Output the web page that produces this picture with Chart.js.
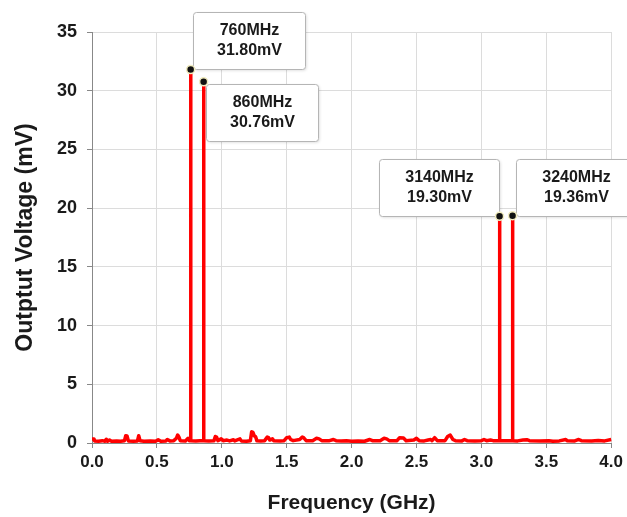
<!DOCTYPE html>
<html>
<head>
  <title>Output Voltage vs Frequency</title>
  <script src="https://cdn.jsdelivr.net/npm/chart.js"></script>
  <style>
    body { margin: 0; background: #fff; }
    canvas { display: block; }
  </style>
</head>
<body>
  <canvas id="specChart" width="627" height="517"></canvas>

  <script>
    // Spectrum trace (GHz, mV)
    const freqGHz = [
      0.000, 0.015, 0.020, 0.050, 0.080, 0.100, 0.110, 0.120, 0.135, 0.150,
      0.190, 0.220, 0.250, 0.260, 0.270, 0.280, 0.320, 0.350, 0.360, 0.370,
      0.400, 0.450, 0.490, 0.510, 0.530, 0.570, 0.580, 0.600, 0.630, 0.650,
      0.660, 0.670, 0.680, 0.720, 0.740, 0.750, 0.758, 0.760, 0.762, 0.800,
      0.830, 0.858, 0.860, 0.862, 0.900, 0.940, 0.950, 0.960, 0.970, 0.995,
      1.000, 1.010, 1.040, 1.060, 1.090, 1.100, 1.140, 1.150, 1.190, 1.220,
      1.230, 1.240, 1.250, 1.260, 1.270, 1.300, 1.330, 1.350, 1.360, 1.370,
      1.390, 1.400, 1.450, 1.480, 1.500, 1.520, 1.530, 1.550, 1.600, 1.620,
      1.630, 1.650, 1.700, 1.730, 1.750, 1.770, 1.830, 1.860, 1.880, 1.920,
      1.960, 2.000, 2.050, 2.100, 2.140, 2.160, 2.220, 2.250, 2.270, 2.290,
      2.350, 2.370, 2.400, 2.420, 2.480, 2.500, 2.520, 2.560, 2.590, 2.610,
      2.620, 2.640, 2.660, 2.720, 2.740, 2.760, 2.780, 2.800, 2.850, 2.870,
      2.890, 2.950, 3.000, 3.020, 3.040, 3.070, 3.090, 3.138, 3.140, 3.142,
      3.180, 3.238, 3.240, 3.242, 3.280, 3.320, 3.350, 3.370, 3.450, 3.520,
      3.550, 3.600, 3.650, 3.660, 3.720, 3.750, 3.770, 3.850, 3.900, 3.950,
      4.000
    ];
    const voltMV = [
      0.35, 0.35, 0.18, 0.15, 0.20, 0.15, 0.32, 0.15, 0.25, 0.15,
      0.18, 0.15, 0.20, 0.62, 0.60, 0.18, 0.15, 0.18, 0.62, 0.20,
      0.15, 0.18, 0.15, 0.28, 0.15, 0.18, 0.30, 0.18, 0.20, 0.40,
      0.68, 0.50, 0.20, 0.18, 0.40, 0.20, 0.20, 31.80, 0.20, 0.18,
      0.20, 0.20, 30.76, 0.20, 0.18, 0.20, 0.55, 0.50, 0.20, 0.35,
      0.35, 0.20, 0.25, 0.18, 0.28, 0.18, 0.35, 0.18, 0.15, 0.20,
      0.95, 0.90, 0.60, 0.55, 0.20, 0.18, 0.20, 0.50, 0.45, 0.25,
      0.35, 0.20, 0.18, 0.20, 0.45, 0.50, 0.30, 0.20, 0.30, 0.50,
      0.45, 0.20, 0.20, 0.40, 0.35, 0.20, 0.20, 0.30, 0.20, 0.18,
      0.20, 0.15, 0.18, 0.15, 0.30, 0.20, 0.20, 0.40, 0.35, 0.20,
      0.20, 0.45, 0.42, 0.20, 0.25, 0.40, 0.20, 0.18, 0.25, 0.30,
      0.20, 0.45, 0.20, 0.20, 0.55, 0.68, 0.30, 0.20, 0.18, 0.30,
      0.20, 0.18, 0.20, 0.30, 0.20, 0.25, 0.20, 0.20, 19.30, 0.20,
      0.20, 0.20, 19.36, 0.20, 0.18, 0.25, 0.28, 0.20, 0.18, 0.20,
      0.15, 0.18, 0.30, 0.20, 0.18, 0.30, 0.20, 0.18, 0.22, 0.18,
      0.30
    ];

    // Marked peaks
    const peakGHz = [0.76, 0.86, 3.14, 3.24];
    const peakMV = [31.80, 30.76, 19.30, 19.36];
    const peakLabels = ['760MHz', '860MHz', '3140MHz', '3240MHz'];

    // Axis ticks
    const xTickLabels = ['0.0', '0.5', '1.0', '1.5', '2.0', '2.5', '3.0', '3.5', '4.0'];
    const yTickLabels = ['0', '5', '10', '15', '20', '25', '30', '35'];

    const FONT = '"Liberation Sans", Arial, sans-serif';

    // callout boxes next to each peak: [dx, dy, w, h] relative to the dot
    const boxPlace = [
      [2, -58, 112, 57],
      [2, 2, 112, 57],
      [-121, -57, 120, 57],
      [3, -57, 120, 57]
    ];

    const calloutPlugin = {
      id: 'callouts',
      beforeDatasetsDraw(chart) {
        const { ctx, scales: { x, y } } = chart;
        ctx.save();
        peakGHz.forEach((f, i) => {
          const px = x.getPixelForValue(f);
          const py = y.getPixelForValue(peakMV[i]);
          const [dx, dy, w, h] = boxPlace[i];
          const bx = Math.round(px + dx) + 0.5;
          const by = Math.round(py + dy) + 0.5;
          ctx.shadowColor = 'rgba(0,0,0,0.15)';
          ctx.shadowBlur = 3;
          ctx.shadowOffsetX = 1;
          ctx.shadowOffsetY = 1;
          ctx.fillStyle = '#ffffff';
          ctx.beginPath();
          ctx.roundRect(bx, by, w, h, 3);
          ctx.fill();
          ctx.shadowColor = 'transparent';
          ctx.strokeStyle = '#b5b5b5';
          ctx.lineWidth = 1;
          ctx.stroke();
          ctx.fillStyle = '#1a1a1a';
          ctx.font = 'bold 16px ' + FONT;
          ctx.textAlign = 'center';
          ctx.textBaseline = 'middle';
          ctx.fillText(peakLabels[i], bx + w / 2, by + h / 2 - 10);
          ctx.fillText(peakMV[i].toFixed(2) + 'mV', bx + w / 2, by + h / 2 + 10);
        });
        ctx.restore();
      }
    };

    const ctx = document.getElementById('specChart').getContext('2d');
    new Chart(ctx, {
      type: 'scatter',
      data: {
        datasets: [
          {
            data: peakGHz.map((f, i) => ({ x: f, y: peakMV[i] })),
            showLine: false,
            pointRadius: 4,
            pointBackgroundColor: '#111111',
            pointBorderColor: '#f2edc0',
            pointBorderWidth: 1.5,
            clip: false
          },
          {
            data: freqGHz.map((f, i) => ({ x: f, y: voltMV[i] })),
            showLine: true,
            borderColor: '#ff0000',
            borderWidth: 3.5,
            borderJoinStyle: 'round',
            pointRadius: 0,
            tension: 0,
            clip: false
          }
        ]
      },
      options: {
        responsive: false,
        animation: false,
        layout: { padding: { top: 32, right: 15, left: 0, bottom: 0 } },
        plugins: {
          legend: { display: false },
          tooltip: { enabled: false }
        },
        scales: {
          x: {
            type: 'linear',
            min: 0,
            max: 4,
            afterFit(scale) { scale.height = 74; },
            afterBuildTicks(scale) {
              scale.ticks = xTickLabels.map(t => ({ value: parseFloat(t) }));
            },
            ticks: {
              callback: (v, i) => xTickLabels[i],
              font: { family: FONT, size: 17, weight: 'bold' },
              color: '#1a1a1a',
              padding: 4,
              maxRotation: 0
            },
            grid: { color: '#dcdcdc', tickColor: '#888888', tickLength: 5 },
            border: { color: '#888888' },
            title: {
              display: true,
              text: 'Frequency (GHz)',
              font: { family: FONT, size: 21, weight: 'bold' },
              color: '#1a1a1a',
              padding: { top: 0, bottom: 1 }
            }
          },
          y: {
            min: 0,
            max: 35,
            afterFit(scale) { scale.width = 92; },
            afterBuildTicks(scale) {
              scale.ticks = yTickLabels.map(t => ({ value: parseFloat(t) }));
            },
            ticks: {
              callback: (v, i) => yTickLabels[i],
              font: { family: FONT, size: 18, weight: 'bold' },
              color: '#1a1a1a',
              padding: 10
            },
            grid: { color: '#dcdcdc', tickColor: '#888888', tickLength: 5 },
            border: { color: '#888888' },
            title: {
              display: true,
              text: 'Outptut Voltage (mV)',
              font: { family: FONT, size: 23, weight: 'bold' },
              color: '#1a1a1a',
              padding: { top: 12, bottom: 0 }
            }
          }
        }
      },
      plugins: [calloutPlugin]
    });
  </script>
</body>
</html>
